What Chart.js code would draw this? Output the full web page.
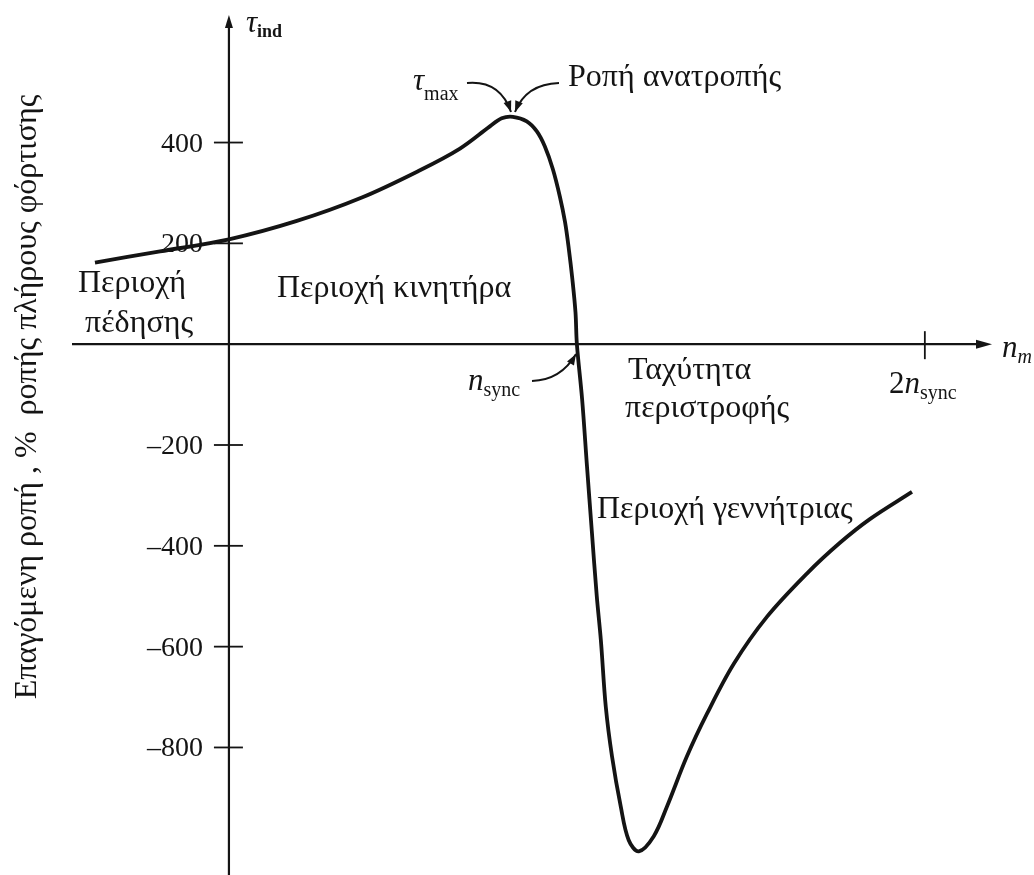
<!DOCTYPE html>
<html lang="el">
<head>
<meta charset="UTF-8" />
<title>Χαρακτηριστική ροπής – ταχύτητας</title>
<script src="https://cdn.jsdelivr.net/npm/chart.js"></script>
<style>
  body { margin: 0; background: #fff; }
  #wrap { width: 1034px; height: 875px; }
</style>
</head>
<body>
<div id="wrap"><canvas id="torque" width="1034" height="875"></canvas></div>
<script>
// speed in units of n_sync, torque in % of full-load torque
const speed = [-0.385, -0.198, 0, 0.193, 0.382, 0.549, 0.664, 0.750, 0.784, 0.816,
  0.856, 0.885, 0.908, 0.931, 0.951, 0.966, 0.977, 0.987, 0.996, 1.0,
  1.015, 1.029, 1.043, 1.057, 1.069, 1.083, 1.101, 1.126, 1.149, 1.178, 1.221, 1.259, 1.316,
  1.374, 1.451, 1.546, 1.661, 1.756, 1.842, 1.963];
const torque = [162, 184, 208, 244, 291, 345, 388, 432, 448, 451,
  442, 422, 392, 347, 293, 242, 188, 129, 63, 0,
  -109, -242, -372, -499, -588, -719, -818, -917, -984, -1006, -976, -917, -818,
  -733, -634, -541, -455, -394, -347, -293];
const yTicks = [400, 200, -200, -400, -600, -800];
const xTicks = [2];
const xRange = [-0.451, 2.193];
const yRange = [-1053, 653];

const SERIF = "'Liberation Serif', 'DejaVu Serif', serif";
const INK = '#141414';

function fillSub(ctx, main, sub, px, py, mainFont, subFont, dy) {
  ctx.font = mainFont;
  ctx.fillText(main, px, py);
  const w = ctx.measureText(main).width;
  ctx.font = subFont;
  ctx.fillText(sub, px + w, py + dy);
}

function arrowHead(ctx, tx, ty, ang, len, half) {
  ctx.beginPath();
  ctx.moveTo(tx, ty);
  ctx.lineTo(tx - len * Math.cos(ang) + half * Math.sin(ang), ty - len * Math.sin(ang) - half * Math.cos(ang));
  ctx.lineTo(tx - len * Math.cos(ang) - half * Math.sin(ang), ty - len * Math.sin(ang) + half * Math.cos(ang));
  ctx.closePath();
  ctx.fill();
}

function curvedArrow(ctx, sx, sy, cx, cy, ex, ey) {
  ctx.beginPath();
  ctx.moveTo(sx, sy);
  ctx.quadraticCurveTo(cx, cy, ex, ey);
  ctx.stroke();
  arrowHead(ctx, ex, ey, Math.atan2(ey - cy, ex - cx), 11, 4);
}

const axesPlugin = {
  id: 'axes',
  beforeDatasetsDraw(chart) {
    const { ctx, scales: { x, y } } = chart;
    const x0 = x.getPixelForValue(0), y0 = y.getPixelForValue(0);
    const top = y.getPixelForValue(yRange[1]), bottom = y.getPixelForValue(yRange[0]);
    const left = x.getPixelForValue(xRange[0]), right = x.getPixelForValue(xRange[1]);
    ctx.save();
    ctx.strokeStyle = INK;
    ctx.fillStyle = INK;
    ctx.lineWidth = 2.2;
    // vertical axis with arrow
    ctx.beginPath();
    ctx.moveTo(x0, bottom);
    ctx.lineTo(x0, top + 8);
    ctx.stroke();
    arrowHead(ctx, x0, top, -Math.PI / 2, 13, 4);
    // horizontal axis with arrow
    ctx.beginPath();
    ctx.moveTo(left, y0);
    ctx.lineTo(right - 8, y0);
    ctx.stroke();
    arrowHead(ctx, right, y0, 0, 16, 4.5);
    // y ticks and labels
    ctx.lineWidth = 1.8;
    ctx.font = '28px ' + SERIF;
    ctx.textAlign = 'right';
    ctx.textBaseline = 'alphabetic';
    yTicks.forEach(v => {
      const py = y.getPixelForValue(v);
      ctx.beginPath();
      ctx.moveTo(x0 - 15, py);
      ctx.lineTo(x0 + 14, py);
      ctx.stroke();
      ctx.fillText(String(v).replace('-', '\u2013'), x0 - 26, py + 9);
    });
    // x ticks
    xTicks.forEach(v => {
      const px = x.getPixelForValue(v);
      ctx.beginPath();
      ctx.moveTo(px, y0 - 13);
      ctx.lineTo(px, y0 + 15);
      ctx.stroke();
    });
    ctx.restore();
  },
  afterDraw(chart) {
    const { ctx } = chart;
    ctx.save();
    ctx.fillStyle = INK;
    ctx.strokeStyle = INK;
    ctx.textAlign = 'left';
    ctx.textBaseline = 'alphabetic';
    const body = '32px ' + SERIF;

    // axis names
    fillSub(ctx, '\u03c4', 'ind', 246, 32, 'italic 31px ' + SERIF, 'bold 18px ' + SERIF, 5);
    fillSub(ctx, 'n', 'm', 1002, 357, 'italic 31px ' + SERIF, 'italic 20px ' + SERIF, 6);

    // rotated y title
    ctx.save();
    ctx.translate(36, 397);
    ctx.rotate(-Math.PI / 2);
    ctx.textAlign = 'center';
    ctx.font = '32px ' + SERIF;
    ctx.fillText('Επαγόμενη ροπή , %  ροπής πλήρους φόρτισης', 0, 0);
    ctx.restore();

    // region labels
    ctx.font = body;
    ctx.fillText('Περιοχή', 78, 292);
    ctx.fillText('πέδησης', 85, 332);
    ctx.fillText('Περιοχή κινητήρα', 277, 297);
    ctx.fillText('Ροπή ανατροπής', 568, 86);
    ctx.fillText('Ταχύτητα', 628, 379);
    ctx.fillText('περιστροφής', 625, 417);
    ctx.fillText('Περιοχή γεννήτριας', 597, 518);

    fillSub(ctx, '\u03c4', 'max', 413, 90, 'italic 31px ' + SERIF, '20px ' + SERIF, 10);
    fillSub(ctx, 'n', 'sync', 468, 390, 'italic 31px ' + SERIF, '20px ' + SERIF, 6);
    ctx.font = '31px ' + SERIF;
    ctx.fillText('2', 889, 393);
    fillSub(ctx, 'n', 'sync', 889 + ctx.measureText('2').width, 393, 'italic 31px ' + SERIF, '20px ' + SERIF, 6);

    // pointer arrows
    ctx.lineWidth = 2;
    curvedArrow(ctx, 467, 83, 500, 80, 511, 112);
    curvedArrow(ctx, 559, 83, 526, 84, 515, 112);
    curvedArrow(ctx, 532, 381, 561, 380, 576, 354);
    ctx.restore();
  }
};

new Chart(document.getElementById('torque'), {
  type: 'scatter',
  data: {
    datasets: [{
      data: speed.map((s, i) => ({ x: s, y: torque[i] })),
      showLine: true,
      borderColor: INK,
      borderWidth: 3.8,
      pointRadius: 0,
      tension: 0.35,
      clip: false
    }]
  },
  options: {
    responsive: false,
    animation: false,
    layout: { padding: { left: 72, right: 42, top: 15, bottom: 0 } },
    scales: {
      x: { type: 'linear', min: xRange[0], max: xRange[1], display: false },
      y: { type: 'linear', min: yRange[0], max: yRange[1], display: false }
    },
    plugins: { legend: { display: false }, tooltip: { enabled: false } }
  },
  plugins: [axesPlugin]
});
</script>
</body>
</html>
